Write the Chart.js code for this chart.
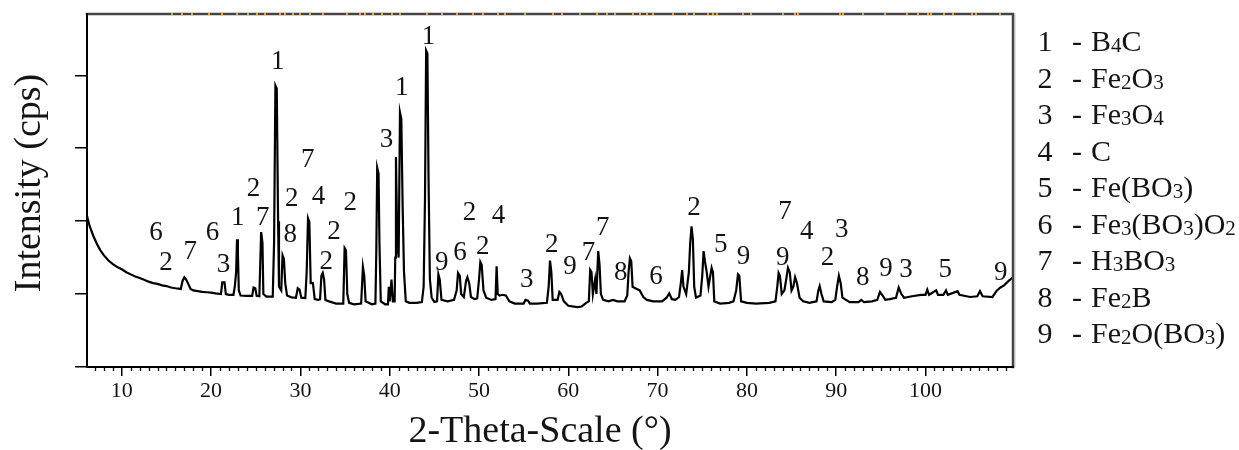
<!DOCTYPE html>
<html>
<head>
<meta charset="utf-8">
<script src="https://cdn.jsdelivr.net/npm/chart.js@4.4.1/dist/chart.umd.min.js"></script>
<style>
  html, body { margin: 0; padding: 0; background: #fff; }
  #wrap { width: 1239px; height: 450px; }
</style>
</head>
<body>
<div id="wrap"><canvas id="xrd" width="1239" height="450"></canvas></div>
<script>
// XRD pattern, values (intensity in arbitrary counts)

const twoTheta = [
  6.1, 6.4, 6.8, 7.2, 7.6, 8.0, 8.5, 9.0, 9.5, 10.0, 10.5, 11.0, 11.5, 12.0, 12.5, 13.0, 13.5, 14.0, 14.5, 15.0,
  15.5, 16.0, 16.6, 16.8, 17.0, 17.2, 17.4, 17.7, 18.0, 18.5, 19.0, 19.5, 20.0, 20.5, 21.1, 21.25, 21.5, 21.65, 22.0, 22.5,
  22.65, 22.8, 22.9, 23.0, 23.1, 23.3, 24.0, 24.6, 24.75, 24.95, 25.1, 25.4, 25.5, 25.6, 25.75, 25.85, 26.2, 26.9, 27.05, 27.2,
  27.35, 27.5, 27.6, 27.85, 28.0, 28.15, 28.3, 28.5, 29.0, 29.5, 29.7, 29.9, 30.1, 30.55, 30.7, 30.85, 31.0, 31.15, 31.4, 31.6,
  32.0, 32.2, 32.35, 32.5, 32.65, 32.8, 33.2, 34.0, 34.8, 34.95, 35.1, 35.25, 35.45, 36.0, 36.8, 37.0, 37.15, 37.3, 38.0, 38.4,
  38.5, 38.6, 38.75, 38.85, 39.0, 39.5, 39.8, 39.9, 40.0, 40.2, 40.35, 40.55, 40.62, 40.7, 40.85, 41.0, 41.15, 41.3, 41.45, 41.6,
  41.8, 42.2, 43.0, 43.6, 43.8, 43.95, 44.08, 44.22, 44.35, 44.5, 44.7, 45.0, 45.3, 45.45, 45.6, 45.8, 46.5, 47.2, 47.5, 47.65,
  47.85, 48.0, 48.3, 48.55, 48.7, 48.9, 49.1, 49.5, 49.8, 50.0, 50.15, 50.3, 50.5, 50.8, 51.4, 51.85, 51.97, 52.1, 52.3, 52.6,
  53.0, 53.4, 54.0, 55.0, 55.2, 55.5, 55.7, 56.5, 57.6, 57.8, 57.95, 58.1, 58.25, 58.8, 59.0, 59.2, 59.5, 60.0, 61.0, 61.5,
  62.0, 62.3, 62.45, 62.6, 62.75, 63.0, 63.15, 63.35, 63.5, 63.65, 63.9, 64.5, 65.0, 65.5, 66.3, 66.6, 66.75, 66.9, 67.05, 67.2,
  67.5, 68.0, 68.4, 68.8, 69.5, 70.5, 71.0, 71.3, 71.6, 72.0, 72.4, 72.6, 72.75, 72.9, 73.2, 73.5, 73.65, 73.8, 73.95, 74.1,
  74.3, 74.8, 75.0, 75.15, 75.3, 75.5, 75.7, 75.9, 76.05, 76.2, 76.35, 77.0, 78.0, 78.5, 78.8, 79.0, 79.15, 79.35, 80.0, 81.0,
  82.5, 83.2, 83.4, 83.55, 83.7, 83.9, 84.2, 84.4, 84.6, 84.8, 85.0, 85.2, 85.4, 85.6, 85.9, 86.3, 87.0, 87.8, 88.0, 88.15,
  88.35, 88.6, 89.5, 89.9, 90.1, 90.3, 90.5, 90.7, 91.5, 92.5, 92.8, 93.1, 94.0, 94.6, 94.9, 95.2, 95.5, 96.0, 96.7, 97.0,
  97.3, 97.6, 98.5, 99.5, 100.0, 100.2, 100.4, 101.2, 101.4, 102.0, 102.3, 102.5, 103.6, 103.8, 105.0, 105.8, 106.1, 106.4, 107.5, 108.0,
  108.4, 108.8, 109.3, 109.8
];

const intensity = [
  2070, 1930, 1800, 1690, 1600, 1530, 1460, 1410, 1370, 1340, 1300, 1270, 1240, 1220, 1195, 1170, 1150, 1140, 1120, 1110,
  1090, 1080, 1070, 1180, 1230, 1200, 1150, 1070, 1050, 1040, 1030, 1025, 1020, 1010, 1000, 1160, 1160, 1000, 990, 990,
  1100, 1300, 1750, 1560, 1050, 980, 975, 975, 1090, 1080, 975, 970, 1400, 1850, 1700, 1000, 965, 965, 1700, 3860,
  3820, 2000, 1100, 1050, 1530, 1480, 1150, 980, 955, 950, 1080, 1060, 950, 945, 1300, 2040, 1990, 1150, 1150, 930,
  920, 930, 1250, 1290, 1200, 920, 900, 870, 870, 1630, 1600, 1000, 880, 860, 870, 1370, 1250, 900, 860, 870,
  1600, 2730, 2650, 1700, 900, 860, 860, 1100, 900, 1200, 900, 900, 1500, 2880, 1700, 1500, 3490, 3400, 2200, 1300,
  900, 880, 880, 890, 1100, 2300, 4340, 4300, 2560, 1200, 950, 890, 900, 1270, 1200, 920, 900, 920, 1050, 1290,
  1250, 1000, 960, 1180, 1230, 1150, 960, 930, 940, 1200, 1440, 1400, 1050, 950, 920, 930, 1380, 1000, 980, 990,
  980, 900, 870, 870, 920, 910, 870, 870, 880, 1100, 1460, 1300, 920, 920, 1030, 1000, 900, 840, 820, 830,
  880, 900, 1330, 1300, 1000, 1200, 1000, 1590, 1400, 1000, 920, 900, 920, 900, 900, 980, 1300, 1490, 1450, 1100,
  1080, 1050, 960, 920, 900, 900, 950, 1010, 930, 920, 960, 1150, 1330, 1100, 1000, 1300, 1700, 1930, 1750, 1100,
  950, 980, 1250, 1590, 1450, 1300, 1100, 1250, 1360, 1300, 900, 870, 880, 900, 1050, 1270, 1250, 900, 880, 870,
  880, 900, 1100, 1290, 1250, 1000, 1050, 1200, 1360, 1300, 1050, 1100, 1230, 1150, 950, 900, 880, 900, 1050, 1110,
  1000, 900, 890, 920, 1100, 1250, 1150, 950, 890, 890, 920, 890, 900, 920, 1030, 980, 920, 930, 950, 1090,
  1000, 950, 970, 990, 990, 1060, 990, 1050, 990, 990, 1050, 990, 1040, 990, 960, 970, 1040, 970, 960, 1050,
  1090, 1120, 1180, 1230
];

// phase numbers written above the peaks: position (2theta, counts) and text
const peakLabelX = [
  13.84, 14.96, 17.65, 20.15, 21.38, 22.99, 24.74, 25.79, 27.47, 29.04, 28.85, 30.83, 32.02, 33.77, 32.88,
  35.57, 39.63, 41.35, 44.33, 45.83, 47.88, 48.93, 50.43, 52.17, 55.35, 58.15, 60.2, 62.25, 63.86, 65.88,
  69.83, 74.08, 77.08, 79.61, 84.02, 84.28, 86.71, 90.63, 89.02, 92.98, 95.59, 97.83, 102.2, 108.43
];
const peakLabelY = [
  1836, 1425, 1575, 1836, 1397, 2041, 2438, 2041, 4178, 2301, 1808, 2836, 2329, 1849, 1438,
  2247, 3110, 3822, 4521, 1425, 1562, 2110, 1644, 2068, 1192, 1671, 1370, 1562, 1904, 1288,
  1233, 2178, 1671, 1507, 1493, 2123, 1849, 1877, 1493, 1219, 1342, 1329, 1329, 1288
];
const peakLabelText = [
  '6', '2', '7', '6', '3', '1', '2', '7', '1', '2', '8', '7', '4', '2', '2',
  '2', '3', '1', '1', '9', '6', '2', '2', '4', '3', '2', '9', '7', '7', '8',
  '6', '2', '5', '9', '9', '7', '4', '3', '2', '8', '9', '3', '5', '9'
];

// small orange reference marks on the top frame (2theta)
const refMarks = [
  15.63, 16.75, 17.87, 19.78, 21.23, 22.91, 24.14, 25.15, 26.05, 27.73, 28.29, 29.18, 29.97, 31.09, 32.54,
  35.23, 36.68, 37.24, 38.14, 39.14, 40.26, 41.16, 44.2, 45.84, 47.52, 49.35, 50.45, 52.14, 52.92, 55.16,
  58.3, 59.3, 61.34, 63.2, 64.35, 65.22, 67.26, 68.04, 68.8, 69.5, 71.77, 73.33, 74.1, 75.67, 76.23, 76.7,
  79.6, 80.5, 84.06, 85.4, 85.75, 90.45, 90.8, 93.0, 95.48, 97.93, 99.2, 100.3, 100.6, 102.1, 103.1,
  105.2, 105.7, 108.4
];

const xTicks = [10, 20, 30, 40, 50, 60, 70, 80, 90, 100];
const yTicks = [0, 1000, 2000, 3000, 4000];

const legendNumbers = ['1', '2', '3', '4', '5', '6', '7', '8', '9'];
const legendFormulas = ['B4C', 'Fe2O3', 'Fe3O4', 'C', 'Fe(BO3)', 'Fe3(BO3)O2', 'H3BO3', 'Fe2B', 'Fe2O(BO3)'];

const SERIF = '"Liberation Serif", "Times New Roman", serif';
const INK = '#141414';

// draw a formula, every digit as a subscript
function drawFormula(ctx, str, x, y) {
  let cx = x;
  for (const ch of str) {
    if (/[0-9]/.test(ch)) {
      ctx.font = '21px ' + SERIF;
      ctx.fillText(ch, cx, y + 3);
    } else {
      ctx.font = '30px ' + SERIF;
      ctx.fillText(ch, cx, y);
    }
    cx += ctx.measureText(ch).width;
  }
}

const decorPlugin = {
  id: 'decor',
  afterDraw(chart) {
    const ctx = chart.ctx;
    const area = chart.chartArea;
    const xs = chart.scales.x;
    const ys = chart.scales.y;
    ctx.save();

    // frame
    ctx.lineCap = 'square';
    ctx.strokeStyle = '#c8c8c8';
    ctx.lineWidth = 1;
    ctx.beginPath();
    ctx.moveTo(area.right + 2, area.top);
    ctx.lineTo(area.right + 2, area.bottom);
    ctx.stroke();
    ctx.strokeStyle = '#444';
    ctx.lineWidth = 2.5;
    ctx.beginPath();
    ctx.moveTo(area.left, area.top);
    ctx.lineTo(area.right, area.top);
    ctx.lineTo(area.right, area.bottom);
    ctx.stroke();
    ctx.strokeStyle = '#000';
    ctx.lineWidth = 2;
    ctx.beginPath();
    ctx.moveTo(area.left, area.top);
    ctx.lineTo(area.left, area.bottom);
    ctx.lineTo(area.right, area.bottom);
    ctx.stroke();

    // orange marks on the top frame
    ctx.fillStyle = '#f0a040';
    refMarks.forEach(v => {
      const px = xs.getPixelForValue(v);
      ctx.fillRect(Math.round(px) - 1, area.top - 1, 2, 2);
    });

    // minor ticks on the 2theta axis
    ctx.strokeStyle = '#000';
    ctx.lineWidth = 1.3;
    ctx.lineCap = 'butt';
    for (let v = 7; v <= 109; v++) {
      if (v % 10 === 0) continue;
      const px = Math.round(xs.getPixelForValue(v)) + 0.5;
      ctx.beginPath();
      ctx.moveTo(px, area.bottom);
      ctx.lineTo(px, area.bottom + 4);
      ctx.stroke();
    }

    // phase numbers over the peaks
    ctx.fillStyle = INK;
    ctx.font = '27px ' + SERIF;
    ctx.textAlign = 'center';
    ctx.textBaseline = 'middle';
    peakLabelText.forEach((t, i) => {
      ctx.fillText(t, xs.getPixelForValue(peakLabelX[i]), ys.getPixelForValue(peakLabelY[i]));
    });

    // legend of phases
    legendNumbers.forEach((n, i) => {
      const y = 43.5 + i * 36.5;
      ctx.font = '30px ' + SERIF;
      ctx.textAlign = 'center';
      ctx.fillText(n, 1045, y);
      ctx.fillText('-', 1077, y);
      ctx.textAlign = 'left';
      drawFormula(ctx, legendFormulas[i], 1091, y);
    });

    // axis titles
    ctx.textAlign = 'center';
    ctx.font = '38px ' + SERIF;
    ctx.fillText('2-Theta-Scale (\u00b0)', 540, 432);
    ctx.save();
    ctx.translate(30, 183);
    ctx.rotate(-Math.PI / 2);
    ctx.fillText('Intensity (cps)', 0, 0);
    ctx.restore();

    ctx.restore();
  }
};

new Chart(document.getElementById('xrd'), {
  type: 'line',
  data: {
    datasets: [{
      data: twoTheta.map((t, i) => ({ x: t, y: intensity[i] })),
      borderColor: '#000',
      borderWidth: 2.2,
      pointRadius: 0,
      tension: 0,
      fill: false
    }]
  },
  options: {
    responsive: false,
    animation: false,
    devicePixelRatio: 1,
    layout: { padding: { left: 0, top: 14, right: 226, bottom: 0 } },
    plugins: { legend: { display: false }, tooltip: { enabled: false } },
    scales: {
      x: {
        type: 'linear',
        min: 6.1,
        max: 109.8,
        afterBuildTicks: s => { s.ticks = xTicks.map(v => ({ value: v })); },
        afterFit: s => { s.height = 83; },
        border: { display: false },
        grid: { drawOnChartArea: false, drawTicks: true, tickLength: 9, color: '#000', lineWidth: 1.5 },
        ticks: { color: INK, font: { family: SERIF, size: 22 }, padding: 2, maxRotation: 0 }
      },
      y: {
        type: 'linear',
        min: 0,
        max: 4840,
        afterBuildTicks: s => { s.ticks = yTicks.map(v => ({ value: v })); },
        afterFit: s => { s.width = 87; },
        border: { display: false },
        grid: { drawOnChartArea: false, drawTicks: true, tickLength: 12, color: '#000', lineWidth: 1.5 },
        ticks: { callback: () => '', padding: 0 }
      }
    }
  },
  plugins: [decorPlugin]
});
</script>
</body>
</html>
